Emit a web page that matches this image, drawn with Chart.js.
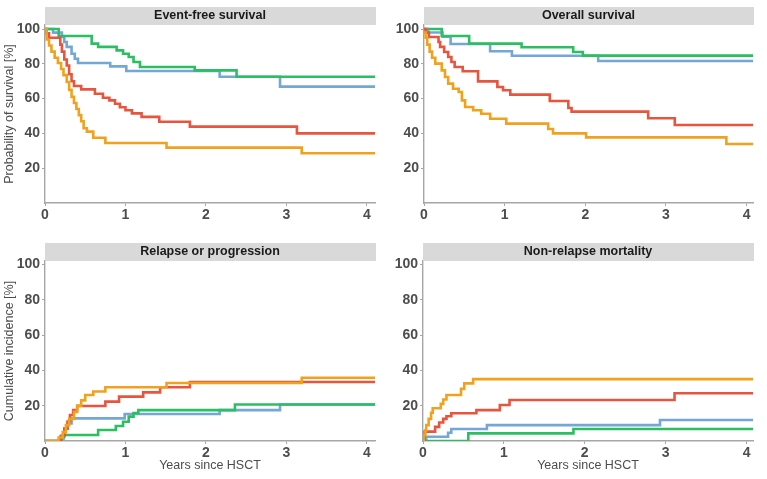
<!DOCTYPE html>
<html>
<head>
<meta charset="utf-8">
<script src="https://cdn.jsdelivr.net/npm/chart.js@4.4.1/dist/chart.umd.min.js"></script>
<style>
  html, body { margin: 0; padding: 0; background: #fff; }
  #wrap { position: relative; width: 767px; height: 479px; overflow: hidden; }
  .panel { position: absolute; }
</style>
</head>
<body>
<div id="wrap">
  <div class="panel" style="left:0px;top:0px;width:384px;height:235px"><canvas id="efs"></canvas></div>
  <div class="panel" style="left:380px;top:0px;width:387px;height:235px"><canvas id="os"></canvas></div>
  <div class="panel" style="left:0px;top:235px;width:384px;height:244px"><canvas id="rel"></canvas></div>
  <div class="panel" style="left:380px;top:235px;width:387px;height:244px"><canvas id="nrm"></canvas></div>
</div>
<script>
// tick labels
const xTicks = [0, 1, 2, 3, 4];
const yTicks = [20, 40, 60, 80, 100];

const panelTitles = ['Event-free survival', 'Overall survival', 'Relapse or progression', 'Non-relapse mortality'];
const yTitles = ['Probability of survival [%]', '', 'Cumulative incidence [%]', ''];
const xTitle = 'Years since HSCT';

// [years, percent] steps
const efsGreen = [[0,100],[0.17,96],[0.58,91.6],[0.66,89.7],[0.89,87.7],[0.97,85.8],[1.04,83.9],[1.10,81],[1.18,78.2],[1.86,76.2],[2.38,72.6],[4.1,72.6]];
const efsBlue = [[0,100],[0.10,97.9],[0.21,95.4],[0.24,92.5],[0.27,89.7],[0.33,85.8],[0.37,82.9],[0.41,80.5],[0.81,78.5],[1.01,75.9],[2.17,72.6],[2.92,66.9],[4.1,66.9]];
const efsRed = [[0,100],[0.02,97.5],[0.05,95],[0.19,91],[0.21,87],[0.24,82.5],[0.27,79],[0.30,74],[0.33,70],[0.36,67.2],[0.45,65.3],[0.62,62.8],[0.72,60.5],[0.80,59],[0.87,57],[0.93,55],[1.00,53.3],[1.08,51.5],[1.20,49.5],[1.42,46.7],[1.80,43.9],[3.13,40],[4.1,40]];
const efsOrange = [[0,100],[0.02,94],[0.05,90.5],[0.08,87],[0.12,83.5],[0.16,80.5],[0.20,77],[0.23,73.5],[0.27,69.5],[0.30,65],[0.33,61],[0.36,57.5],[0.39,54],[0.42,50.5],[0.45,47],[0.48,43],[0.52,41],[0.60,37.5],[0.75,34.5],[1.51,31.8],[3.19,28.6],[4.1,28.6]];

const osGreen = [[0,100],[0.22,96],[0.56,91.6],[1.21,89.5],[1.85,86.8],[1.97,84.7],[4.08,84.7]];
const osBlue = [[0,100],[0.05,98],[0.23,95.6],[0.33,91.4],[0.82,87.2],[1.09,84.6],[2.16,81.6],[4.08,81.6]];
const osRed = [[0,100],[0.02,98],[0.06,95.4],[0.18,92.5],[0.20,89.7],[0.25,86.8],[0.30,83.9],[0.34,81],[0.38,78.2],[0.48,75.7],[0.67,69.9],[0.91,66.7],[0.98,64.8],[1.07,62.3],[1.56,58.6],[1.79,54.6],[1.83,52.5],[2.78,48.7],[3.11,44.8],[4.08,44.8]];
const osOrange = [[0,98],[0.02,95],[0.04,91],[0.07,87],[0.10,83.5],[0.14,80.1],[0.22,76.2],[0.26,72.4],[0.30,68.6],[0.36,65.7],[0.43,63.8],[0.47,59],[0.51,55.2],[0.61,53.3],[0.71,51.3],[0.82,48.4],[1.02,45.6],[1.54,42.5],[1.60,40],[2.01,37.7],[3.75,33.9],[4.08,33.9]];

const relGreen = [[0,0],[0.20,1.5],[0.23,3.4],[0.66,6.2],[0.88,8.5],[0.97,10.9],[1.04,13.8],[1.10,15.8],[1.16,17.5],[2.36,20.7],[4.1,20.7]];
const relBlue = [[0,0],[0.19,2.5],[0.24,7],[0.28,10],[0.33,12.8],[0.99,15.3],[2.17,17.5],[2.92,20.7],[4.1,20.7]];
const relRed = [[0,0],[0.17,0],[0.20,3],[0.24,7],[0.28,11],[0.31,14.7],[0.35,17.5],[0.40,19.8],[0.75,22.3],[0.92,25.1],[1.22,27.5],[1.43,30.4],[1.80,33.4],[4.1,33.4]];
const relOrange = [[0,0],[0.17,2],[0.22,5],[0.26,9],[0.30,12.5],[0.36,16.5],[0.40,20],[0.45,23],[0.50,26],[0.60,28],[0.75,30.4],[1.51,32.8],[3.19,35.8],[4.1,35.8]];

const nrmGreen = [[0,0],[0.56,4.3],[1.86,6.8],[4.08,6.8]];
const nrmBlue = [[0,0],[0.04,2.4],[0.31,4.7],[0.35,6.8],[0.79,9],[2.93,11.9],[4.08,11.9]];
const nrmRed = [[0,0],[0.02,5.3],[0.15,8],[0.20,10.5],[0.25,12.5],[0.29,14],[0.35,15.7],[0.66,17.5],[0.95,20.4],[1.07,23.2],[3.11,27],[4.08,27]];
const nrmOrange = [[0,0],[0.01,3.4],[0.03,6],[0.04,9],[0.07,12.5],[0.10,16],[0.12,18.5],[0.22,21],[0.25,23.5],[0.29,26],[0.47,29.5],[0.51,32.6],[0.62,35],[4.08,35]];

const COLORS = { green: '#2cbf62', blue: '#74a7d6', red: '#e8553f', orange: '#f1a21d' };
const AXIS = '#a6a6a6';
const TEXT = '#4d4d4d';

// grey facet strip above each plot
const stripPlugin = {
  id: 'strip',
  afterDraw(chart, args, opts) {
    const { ctx, chartArea } = chart;
    ctx.save();
    ctx.fillStyle = '#d9d9d9';
    ctx.fillRect(chartArea.left, chartArea.top - 18, chartArea.right - chartArea.left + 1, 18);
    ctx.fillStyle = '#1a1a1a';
    ctx.font = 'bold 12.5px "Liberation Sans", Arial, sans-serif';
    ctx.textAlign = 'center';
    ctx.textBaseline = 'middle';
    ctx.fillText(opts.text, (chartArea.left + chartArea.right) / 2, chartArea.top - 9);
    ctx.restore();
  }
};

function makePanel(id, idx, series, cfg) {
  const datasets = [
    ['orange', series[3]], ['red', series[2]], ['green', series[0]], ['blue', series[1]]
  ].map(([c, pts]) => ({
    data: pts.map(p => ({ x: p[0], y: p[1] })),
    borderColor: COLORS[c],
    borderWidth: 2.6,
    pointRadius: 0,
    stepped: true,
    fill: false,
    borderCapStyle: 'butt'
  }));

  return new Chart(document.getElementById(id), {
    type: 'line',
    data: { datasets },
    plugins: [stripPlugin],
    options: {
      responsive: true,
      maintainAspectRatio: false,
      animation: false,
      layout: { padding: { top: cfg.top, right: cfg.right, left: 0, bottom: 0 } },
      plugins: {
        legend: { display: false },
        tooltip: { enabled: false },
        strip: { text: panelTitles[idx] }
      },
      scales: {
        x: {
          type: 'linear',
          min: 0,
          max: cfg.xMax,
          afterBuildTicks: s => { s.ticks = xTicks.map(v => ({ value: v })); },
          afterFit: s => { s.height = cfg.xHeight; },
          grid: { display: true, drawOnChartArea: false, drawTicks: true, tickLength: 3, color: AXIS },
          border: { display: true, color: AXIS, width: 1.4 },
          ticks: { color: TEXT, padding: 1, maxRotation: 0, font: { family: '"Liberation Sans", Arial, sans-serif', size: 14, weight: 'bold' } },
          title: {
            display: cfg.showX,
            text: xTitle,
            color: TEXT,
            padding: { top: 0, bottom: 6 },
            font: { family: '"Liberation Sans", Arial, sans-serif', size: 12.5 }
          }
        },
        y: {
          min: 0,
          max: cfg.yMax,
          afterBuildTicks: s => { s.ticks = yTicks.map(v => ({ value: v })); },
          afterFit: s => { s.width = cfg.yWidth; },
          grid: { display: true, drawOnChartArea: false, drawTicks: true, tickLength: 3, color: AXIS },
          border: { display: true, color: AXIS, width: 1.4 },
          ticks: { color: TEXT, padding: 2, font: { family: '"Liberation Sans", Arial, sans-serif', size: 14, weight: 'bold' } },
          title: {
            display: yTitles[idx] !== '',
            text: yTitles[idx],
            color: TEXT,
            padding: { top: 2, bottom: 0 },
            font: { family: '"Liberation Sans", Arial, sans-serif', size: 12.5 }
          }
        }
      }
    }
  });
}

makePanel('efs', 0, [efsGreen, efsBlue, efsRed, efsOrange], { top: 25, right: 9, xMax: 4.1, yMax: 102.3, xHeight: 32, yWidth: 45, showX: false });
makePanel('os', 1, [osGreen, osBlue, osRed, osOrange], { top: 25, right: 14, xMax: 4.08, yMax: 102.3, xHeight: 32, yWidth: 44, showX: false });
makePanel('rel', 2, [relGreen, relBlue, relRed, relOrange], { top: 26, right: 9, xMax: 4.1, yMax: 101.9, xHeight: 38, yWidth: 45, showX: true });
makePanel('nrm', 3, [nrmGreen, nrmBlue, nrmRed, nrmOrange], { top: 26, right: 14, xMax: 4.08, yMax: 101.9, xHeight: 38, yWidth: 43, showX: true });
</script>
</body>
</html>
